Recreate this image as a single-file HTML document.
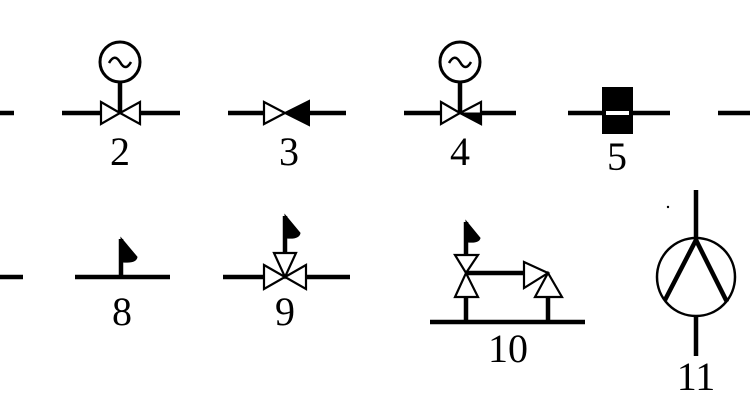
<!DOCTYPE html>
<html><head><style>body{margin:0;background:#fff}svg{display:block}text{font-family:"Liberation Serif",serif;font-size:40px;text-anchor:middle;fill:#000}</style></head><body>
<svg width="750" height="400" viewBox="0 0 750 400" xmlns="http://www.w3.org/2000/svg">
<g stroke="#000" stroke-width="4.5" fill="none">
<line x1="0" y1="113" x2="14" y2="113"/>
<line x1="718" y1="113" x2="750" y2="113"/>
<!-- 2 -->
<line x1="62" y1="113" x2="101" y2="113"/><line x1="140" y1="113" x2="180" y2="113"/>
<circle cx="120" cy="62" r="20" stroke-width="3"/>
<path d="M109 63 q5.5 -10 11 -1 q5.5 10 11 0" stroke-width="2.5"/>
<line x1="120" y1="82" x2="120" y2="113"/>
<path d="M101 102 L120 113 L101 124 Z M140 102 L120 113 L140 124 Z" stroke-width="2.2"/>
<!-- 3 -->
<line x1="228" y1="113" x2="264" y2="113"/><line x1="306" y1="113" x2="346" y2="113"/>
<path d="M264 102 L285 113 L264 124 Z" stroke-width="2.2"/>
<path d="M309 101 L285 113 L309 125 Z" fill="#000" stroke-width="2"/>
<!-- 4 -->
<line x1="404" y1="113" x2="441" y2="113"/><line x1="480" y1="113" x2="516" y2="113"/>
<circle cx="460" cy="62" r="20" stroke-width="3"/>
<path d="M449 63 q5.5 -10 11 -1 q5.5 10 11 0" stroke-width="2.5"/>
<line x1="460" y1="82" x2="460" y2="113"/>
<path d="M441 102 L460 113 L441 124 Z" stroke-width="2.2"/>
<path d="M481 102 L460 113 L481 124 Z" stroke-width="2.2"/>
<path d="M481 113 L460 113 L481 124 Z" fill="#000" stroke-width="1"/>
<!-- 5 -->
<line x1="568" y1="113" x2="670" y2="113"/>
<rect x="602" y="87" width="31" height="47" fill="#000" stroke="none"/>
<rect x="606" y="111" width="23" height="4" fill="#fff" stroke="none"/>
<!-- row 2 -->
<line x1="0" y1="277" x2="23" y2="277"/>
<!-- 8 -->
<line x1="75" y1="277" x2="170" y2="277"/>
<line x1="121" y1="277" x2="121" y2="239"/>
<path d="M121 238 L137 257 Q136 263 123 262 Z" fill="#000" stroke-width="1"/>
<!-- 9 -->
<line x1="223" y1="277" x2="264" y2="277"/><line x1="306" y1="277" x2="350" y2="277"/>
<path d="M264 265 L285 277 L264 289 Z M306 265 L285 277 L306 289 Z M274 253 L296 253 L285 277 Z" stroke-width="2.2"/>
<line x1="285" y1="253" x2="285" y2="216"/>
<path d="M285 215 L300 233 Q299 239 287 238 Z" fill="#000" stroke-width="1"/>
<!-- 10 -->
<line x1="430" y1="322" x2="585" y2="322"/>
<path d="M455 255 L478 255 L466 273 Z M455 297 L478 297 L466 273 Z" stroke-width="2.2"/>
<line x1="466" y1="255" x2="466" y2="222"/>
<path d="M466 221 L480 238 Q479 243 468 242 Z" fill="#000" stroke-width="1"/>
<line x1="466" y1="297" x2="466" y2="322"/>
<line x1="466" y1="273" x2="524" y2="273"/>
<path d="M524 262 L548 273 L524 288 Z M535 297 L562 297 L548 273 Z" stroke-width="2.2"/>
<line x1="548" y1="297" x2="548" y2="322"/>
<!-- 11 -->
<circle cx="696" cy="277" r="39" stroke-width="2.5"/>
<line x1="696" y1="190" x2="696" y2="238"/>
<line x1="696" y1="316" x2="696" y2="356"/>
<path d="M665 300 L696 240 L727 302"/>
<circle cx="668" cy="207" r="1.2" fill="#000" stroke="none"/>
</g>
<text x="120" y="165">2</text>
<text x="289" y="165">3</text>
<text x="460" y="165">4</text>
<text x="617" y="170">5</text>
<text x="122" y="325">8</text>
<text x="285" y="325">9</text>
<text x="508" y="362">10</text>
<text x="696" y="390">11</text>
</svg>
</body></html>
